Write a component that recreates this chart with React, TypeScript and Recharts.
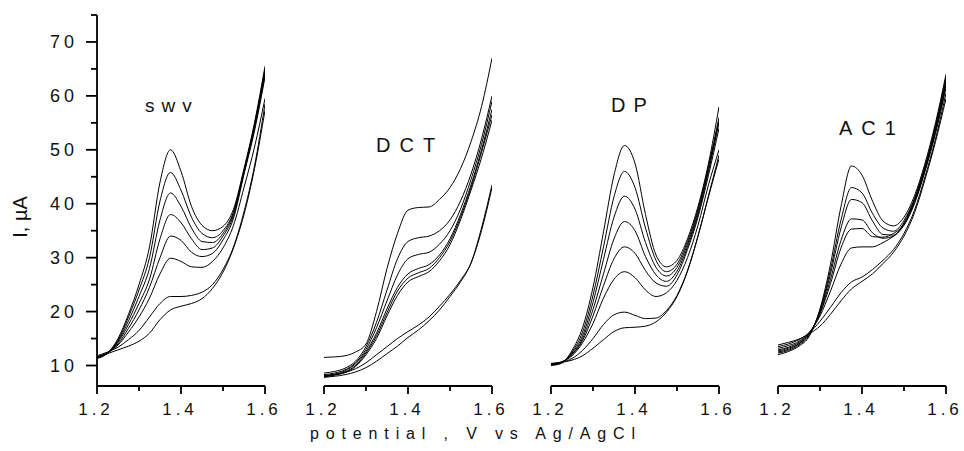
import React from 'react';
import { LineChart, Line, XAxis, YAxis } from 'recharts';

// potential axis (V vs Ag/AgCl)
const potentials = [1.2, 1.225, 1.25, 1.275, 1.3, 1.325, 1.35, 1.375, 1.4, 1.425, 1.45, 1.475, 1.5, 1.525, 1.55, 1.575, 1.6];

// SWV panel currents (µA)
const swv1 = [11.3, 12.3, 15, 19.5, 25, 32, 44, 50, 46, 39.5, 36, 35, 35.8, 39, 46.5, 55, 65.5];
const swv2 = [11.4, 12.3, 14.7, 19, 24, 30, 40.5, 45.8, 42.5, 37.5, 34.5, 33.7, 35, 38.5, 46.2, 54.7, 65];
const swv3 = [11.4, 12.3, 14.5, 18.3, 22.8, 28, 37, 42, 39.5, 35.5, 33, 32.8, 34.5, 38.2, 46, 54.3, 64.5];
const swv4 = [11.5, 12.3, 14.3, 17.6, 21.5, 26, 33.5, 38, 36.5, 33.5, 31.5, 31.8, 34, 37.8, 45.7, 54, 64];
const swv5 = [11.5, 12.3, 14, 16.9, 20.3, 24.5, 30, 34, 33.2, 31, 30.2, 30.8, 33.3, 37.3, 45.5, 53.5, 63.5];
const swv6 = [11.6, 12.4, 13.8, 16.2, 19, 22.5, 27, 29.9, 29.3, 28.3, 28.2, 29.3, 31.8, 36, 43, 50.5, 59.5];
const swv7 = [11.8, 12.5, 13.4, 14.8, 16.5, 19, 21.5, 22.8, 22.8, 23, 23.6, 25, 27.8, 32, 38.5, 47, 58.5];
const swv8 = [11.6, 12.2, 12.9, 13.6, 14.5, 16, 18.5, 20.3, 21, 21.5, 22.4, 24.3, 27.3, 31.8, 38, 46.5, 57.3];

// DCT panel currents (µA)
const dct1 = [11.5, 11.6, 11.8, 12.5, 14, 20, 28, 34.5, 38.8, 39.3, 39.4, 40.8, 43, 46.5, 51.5, 58, 67];
const dct2 = [8.6, 8.9, 9.5, 10.8, 13.5, 18, 24, 29.8, 33, 33.7, 34, 35, 37, 40.5, 45.5, 52, 60];
const dct3 = [8.3, 8.6, 9.2, 10.5, 13, 17, 22, 26.8, 29.8, 30.6, 31, 32.5, 35, 39, 44.5, 51, 59];
const dct4 = [8.1, 8.4, 9, 10.3, 12.6, 16, 20.5, 24.5, 27, 28, 28.7, 30.5, 33.5, 38, 43.5, 50, 57.5];
const dct5 = [8, 8.3, 8.8, 10, 12.3, 15.5, 19.8, 23.8, 26.2, 27.2, 28, 30, 33, 37.5, 43, 49.5, 56.5];
const dct6 = [7.9, 8.2, 8.7, 9.8, 12, 15, 19.2, 23, 25.5, 26.5, 27.4, 29.4, 32.4, 37, 42.5, 48.5, 55.5];
const dct7 = [8.1, 8.3, 8.7, 9.4, 10.5, 12, 13.5, 15, 16.3, 17.5, 19, 21, 23.2, 25.8, 29, 35, 43];
const dct8 = [7.8, 8, 8.3, 8.8, 9.6, 10.8, 12.2, 13.6, 15.2, 16.6, 18.3, 20.3, 22.8, 25.5, 29, 35.5, 43.5];

// DP panel currents (µA)
const dp1 = [10, 10.4, 12.8, 17, 24.5, 34.8, 45.3, 50.8, 47.5, 38, 30.5, 28.3, 29.5, 33.5, 39.5, 47.5, 58];
const dp2 = [10.1, 10.5, 12.5, 16.2, 23, 32, 41.3, 46, 43, 35.5, 29.5, 27.4, 28.8, 33, 39, 47, 56];
const dp3 = [10.1, 10.5, 12.3, 15.5, 21.7, 29.7, 37.5, 41.4, 39, 32.8, 28.2, 26.6, 28.2, 32.5, 38.5, 46.5, 55.5];
const dp4 = [10.2, 10.6, 12.1, 15, 20.4, 27, 33.5, 36.7, 35, 30.2, 26.8, 25.6, 27.5, 32, 38, 46, 55];
const dp5 = [10.2, 10.6, 12, 14.6, 19.2, 24.8, 29.8, 32, 30.8, 27.6, 25.3, 24.7, 26.8, 31.5, 37.5, 45.3, 54];
const dp6 = [10.3, 10.7, 11.8, 14.2, 17.8, 22.5, 26, 27.4, 26.3, 24, 22.8, 23.5, 25.8, 30, 36, 43.5, 50];
const dp7 = [10.3, 10.6, 11.3, 12.8, 15, 17.6, 19.4, 19.9, 19.3, 18.7, 18.8, 20.2, 23, 27.6, 34, 41.5, 49];
const dp8 = [10.4, 10.6, 11, 11.8, 13.2, 14.8, 16.3, 17, 17.1, 17.3, 18.1, 19.9, 22.8, 27.5, 34, 41.3, 48.3];

// AC1 panel currents (µA)
const ac1 = [12, 12.6, 13.6, 15.5, 20.5, 28.8, 39.5, 47, 45.3, 40.5, 36.8, 35.9, 37.5, 41.5, 47.5, 55, 64];
const ac2 = [12.3, 12.8, 13.8, 15.7, 20.3, 27.8, 37, 43, 42, 38.2, 35.5, 34.9, 36.9, 41, 47, 54.5, 63.5];
const ac3 = [12.5, 13, 14, 15.9, 20.1, 27, 35.5, 40.8, 40.2, 36.8, 34.3, 34.2, 36.5, 40.8, 46.8, 54, 63];
const ac4 = [12.7, 13.2, 14.1, 16, 19.8, 26, 33.2, 37.2, 37, 34.6, 33.6, 34, 36.2, 40.5, 46.5, 53.8, 62.5];
const ac5 = [12.9, 13.4, 14.3, 16.1, 19.6, 25.2, 31.8, 35.3, 35.4, 33.9, 33.8, 34.5, 36.2, 40.3, 46.2, 53.5, 62];
const ac6 = [13.2, 13.7, 14.5, 16.2, 19.2, 23.8, 28.8, 31.8, 32, 32, 32.8, 34, 36, 40, 46, 53, 61.5];
const ac7 = [13.5, 14, 14.8, 16.1, 18.2, 20.8, 23.5, 25.5, 26.4, 27.8, 29.5, 31.5, 34.5, 38.8, 45, 52, 60.5];
const ac8 = [13.8, 14.3, 14.9, 15.9, 17.3, 19.5, 22, 24.2, 25.6, 27, 28.9, 31, 34, 38.3, 44.5, 51.5, 59.5];

// tick values
const xTicks = [1.2, 1.3, 1.4, 1.5, 1.6];
const yTicks = [10, 15, 20, 25, 30, 35, 40, 45, 50, 55, 60, 65, 70, 75];
const yDomain: [number, number] = [6.2, 75];

const panelLabels = ['swv', 'DCT', 'DP', 'AC1'];
const xTitle = 'potential , V vs Ag/AgCl';
const yTitle = 'I, µA';

const FONT = '"Liberation Sans", Arial, sans-serif';

const buildRows = (curves: number[][]) =>
  potentials.map((p, i) => {
    const row: Record<string, number> = { p };
    curves.forEach((c, k) => {
      row['c' + k] = c[i];
    });
    return row;
  });

const panels = [
  { curves: [swv1, swv2, swv3, swv4, swv5, swv6, swv7, swv8], left: 97 },
  { curves: [dct1, dct2, dct3, dct4, dct5, dct6, dct7, dct8], left: 324 },
  { curves: [dp1, dp2, dp3, dp4, dp5, dp6, dp7, dp8], left: 551 },
  { curves: [ac1, ac2, ac3, ac4, ac5, ac6, ac7, ac8], left: 778 },
];

const XTick = (props: any) => {
  const { x, y, payload } = props;
  const v = Number(payload.value);
  const major = Math.round(v * 10) % 2 === 0;
  return (
    <g>
      <line x1={x} x2={x} y1={y} y2={y + (major ? 8 : 5)} stroke="#000" strokeWidth={1.8} />
      {major && (
        <text x={x - 1} y={y + 29} textAnchor="middle" fontSize={17} letterSpacing={4} fill="#111" fontFamily={FONT}>
          {v.toFixed(1)}
        </text>
      )}
    </g>
  );
};

const YTick = (props: any) => {
  const { x, y, payload } = props;
  const v = Number(payload.value);
  const major = v % 10 === 0;
  return (
    <g>
      <line x1={x - (major ? 11 : 6)} x2={x} y1={y} y2={y} stroke="#000" strokeWidth={1.8} />
      {major && (
        <text x={x - 19} y={y + 6} textAnchor="end" fontSize={18} letterSpacing={4} fill="#111" fontFamily={FONT}>
          {String(v)}
        </text>
      )}
    </g>
  );
};

const PLOT_W = 168;
const CHART_H = 451;
const XAXIS_H = 40;
const MARGIN_BOTTOM = CHART_H - 386 - XAXIS_H;

export default function App() {
  return (
    <div style={{ position: 'absolute', left: 0, top: 0, width: 964, height: 451, background: '#fff', overflow: 'hidden' }}>
      {panels.map((panel, idx) => {
        const first = idx === 0;
        const chartLeft = first ? 0 : panel.left - 20;
        const width = first ? panel.left + PLOT_W + 20 : PLOT_W + 40;
        const data = buildRows(panel.curves);
        return (
          <div key={idx} style={{ position: 'absolute', left: chartLeft, top: 0 }}>
            <LineChart
              width={width}
              height={CHART_H}
              data={data}
              margin={{ top: 15, right: 20, bottom: MARGIN_BOTTOM, left: first ? 0 : 20 }}
            >
              <XAxis
                dataKey="p"
                type="number"
                domain={[1.2, 1.6]}
                allowDataOverflow
                ticks={xTicks}
                interval={0}
                height={XAXIS_H}
                tickSize={0}
                tickMargin={0}
                tickLine={false}
                axisLine={{ stroke: '#000', strokeWidth: 1.8 }}
                tick={<XTick />}
              />
              {first ? (
                <YAxis
                  type="number"
                  domain={yDomain}
                  allowDataOverflow
                  ticks={yTicks}
                  interval={0}
                  width={97}
                  tickSize={0}
                  tickMargin={0}
                  tickLine={false}
                  axisLine={{ stroke: '#000', strokeWidth: 1.8 }}
                  tick={<YTick />}
                />
              ) : (
                <YAxis type="number" domain={yDomain} allowDataOverflow hide />
              )}
              {panel.curves.map((_, k) => (
                <Line
                  key={k}
                  dataKey={'c' + k}
                  type="monotone"
                  stroke="#000"
                  strokeWidth={1}
                  dot={false}
                  activeDot={false}
                  isAnimationActive={false}
                />
              ))}
            </LineChart>
          </div>
        );
      })}
      <svg width={964} height={451} style={{ position: 'absolute', left: 0, top: 0, pointerEvents: 'none' }}>
        <text x={145} y={112} fontSize={19} letterSpacing={7} fill="#111" fontFamily={FONT}>{panelLabels[0]}</text>
        <text x={376} y={152} fontSize={20} letterSpacing={9} fill="#111" fontFamily={FONT}>{panelLabels[1]}</text>
        <text x={611} y={112} fontSize={20} letterSpacing={8} fill="#111" fontFamily={FONT}>{panelLabels[2]}</text>
        <text x={839} y={135} fontSize={20} letterSpacing={9} fill="#111" fontFamily={FONT}>{panelLabels[3]}</text>
        <text x={310} y={439} fontSize={16} textLength={325} lengthAdjust="spacing" fill="#111" fontFamily={FONT}>{xTitle}</text>
        <text transform="translate(27,217) rotate(-90)" textAnchor="middle" fontSize={20} fill="#111" fontFamily={FONT}>{yTitle}</text>
      </svg>
    </div>
  );
}
